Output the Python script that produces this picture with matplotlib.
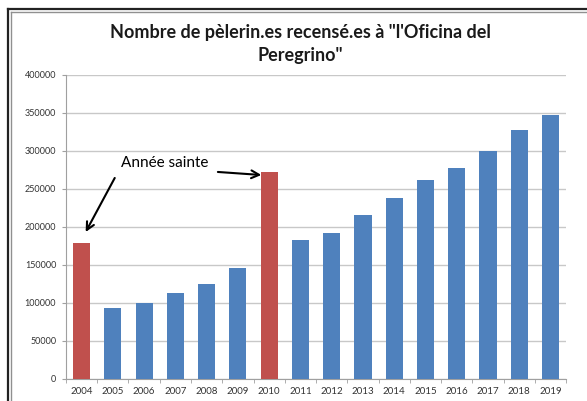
import numpy as np
import matplotlib
matplotlib.use('Agg')
from matplotlib import pyplot as plt
from matplotlib.lines import Line2D

years = ['2004', '2005', '2006', '2007', '2008', '2009', '2010', '2011',
         '2012', '2013', '2014', '2015', '2016', '2017', '2018', '2019']
pilgrims = [179000, 93000, 100000, 113000, 125000, 146000, 272000, 183000,
            192000, 216000, 238000, 262000, 277000, 300000, 327000, 347000]
holy_years = ['2004', '2010']

BLUE = '#4f81bd'
RED = '#c0504d'

plt.rcParams['font.family'] = ['Lato', 'DejaVu Sans']

fig = plt.figure(figsize=(5.87, 4.01), dpi=100)
ax = fig.add_axes([0.1124, 0.0549, 0.852, 0.7581])

x = np.arange(len(years))
colors = [RED if y in holy_years else BLUE for y in years]
ax.bar(x, pilgrims, width=0.55, color=colors, zorder=3)

ax.set_xlim(-0.5, len(years) - 0.5)
ax.set_ylim(0, 400000)
ax.set_yticks(np.arange(0, 400001, 50000))
ax.set_yticklabels([str(v) for v in range(0, 400001, 50000)], fontsize=6.5, color='#333333')
ax.set_xticks(x)
ax.set_xticklabels(years, fontsize=7, color='#333333')
ax.set_xticks(np.arange(-0.5, len(years), 1), minor=True)
ax.tick_params(axis='x', which='major', length=0, pad=6)
ax.tick_params(axis='x', which='minor', length=3, color='#a0a0a0', direction='out')
ax.tick_params(axis='y', length=3, color='#a0a0a0', pad=4)

ax.grid(axis='y', color='#c8c8c8', linewidth=1, zorder=0)
for side in ['top', 'right']:
    ax.spines[side].set_visible(False)
ax.spines['left'].set_color('#a0a0a0')
ax.spines['bottom'].set_color('#a0a0a0')

fig.suptitle('Nombre de pèlerin.es recensé.es à "l\'Oficina del\nPeregrino"',
             x=0.512, y=0.94, va='top', fontsize=13, fontweight='bold',
             linespacing=1.45, color='#1a1a1a')

# annotation for holy years
ax.text(2.66, 284000, 'Année sainte', fontsize=11, ha='center', va='center')
arrow = dict(arrowstyle='->', color='black', lw=1.5, shrinkA=0, shrinkB=0,
             mutation_scale=14)
ax.annotate('', xy=(0.13, 193400), xytext=(1.06, 264500), arrowprops=arrow)
ax.annotate('', xy=(5.75, 268400), xytext=(4.36, 272400), arrowprops=arrow)

# chart frame (double border, cut off right and bottom)
W, H = 587, 401
def px(xp, yp):
    return xp / W, 1 - yp / H
for off, col, lw in [(7.5, '#222222', 1.6), (10.5, '#909090', 1.0)]:
    x0, y0 = px(off, off + 1)
    x1, y1 = px(W + 5, H + 5)
    fig.add_artist(Line2D([x0, x1], [y0, y0], color=col, lw=lw, transform=fig.transFigure))
    fig.add_artist(Line2D([x0, x0], [y0, y1], color=col, lw=lw, transform=fig.transFigure))

fig.savefig('out.png', dpi=100)
